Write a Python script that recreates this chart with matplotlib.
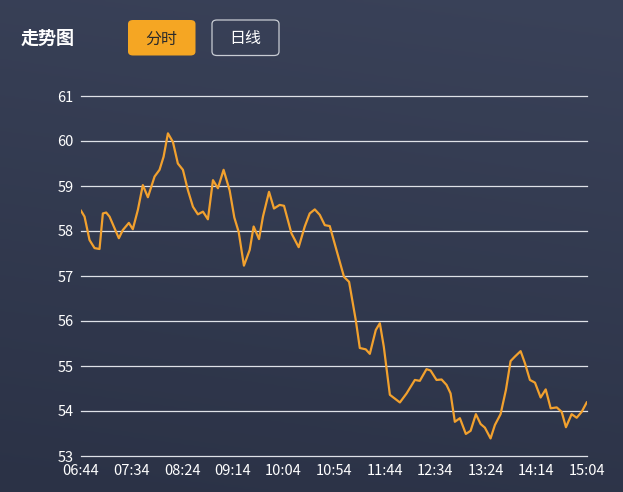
import numpy as np
import matplotlib
matplotlib.use("Agg")
import matplotlib.pyplot as plt
from matplotlib.patches import FancyBboxPatch

plt.rcParams['font.family'] = ['Noto Sans CJK SC', 'DejaVu Sans']

# minutes after 06:44 and price
minutes = [0, 3.5, 8.4, 13.4, 18.3, 21.6, 24.9, 28.2, 37.4, 41.3, 47.3, 51.2, 56.2,
           61.1, 66.1, 69.4, 72.7, 77.6, 81.6, 85.9, 90.8, 95.7, 100.7, 105.6, 110.6,
           115.5, 120.5, 125.4, 130.4, 135.3, 140.9, 146.9, 151.5, 155.8, 161.0, 166.7,
           170.6, 175.9, 179.8, 185.8, 190.7, 196.3, 200.6, 207.9, 215.1, 221.1, 226.0,
           231.0, 235.9, 240.9, 245.8, 252.4, 259.9, 264.9, 271.5, 275.5, 281.4, 285.4,
           291.3, 295.3, 299.2, 305.2, 315.1, 321.7, 329.9, 334.8, 341.4, 345.4, 351.3,
           356.3, 361.2, 365.2, 369.4, 374.4, 380.3, 385.0, 390.2, 394.9, 399.1, 404.7,
           409.0, 414.6, 419.9, 424.5, 428.8, 434.4, 438.7, 443.6, 448.6, 454.2, 459.2,
           464.1, 470.1, 475.0, 479.2, 484.8, 489.8, 494.7, 499.7]
prices = [58.45, 58.32, 57.8, 57.62, 57.6, 58.39, 58.41, 58.32, 57.84, 58.02, 58.18,
          58.04, 58.47, 59.02, 58.75, 58.98, 59.21, 59.36, 59.65, 60.17, 59.98, 59.5,
          59.36, 58.91, 58.54, 58.37, 58.43, 58.26, 59.13, 58.95, 59.36, 58.9, 58.3,
          57.98, 57.23, 57.58, 58.1, 57.82, 58.32, 58.87, 58.5, 58.58, 58.56, 57.95,
          57.64, 58.1, 58.39, 58.48, 58.36, 58.13, 58.11, 57.58, 56.98, 56.87, 56.02,
          55.4, 55.37, 55.27, 55.8, 55.95, 55.43, 54.36, 54.19, 54.39, 54.69, 54.67,
          54.93, 54.9, 54.69, 54.7, 54.58, 54.39, 53.76, 53.84, 53.49, 53.56, 53.93,
          53.71, 53.63, 53.39, 53.69, 53.93, 54.47, 55.11, 55.21, 55.33, 55.06, 54.69,
          54.63, 54.3, 54.48, 54.06, 54.08, 53.98, 53.64, 53.93, 53.85, 53.98, 54.19]
tick_labels = ["06:44", "07:34", "08:24", "09:14", "10:04", "10:54",
               "11:44", "12:34", "13:24", "14:14", "15:04"]
y_ticks = [53, 54, 55, 56, 57, 58, 59, 60, 61]

fig = plt.figure(figsize=(6.23, 4.92), dpi=100)

# background gradient, lighter at the top
bg = fig.add_axes([0, 0, 1, 1])
yy, xx = np.mgrid[0:1:200j, 0:1:200j]
t = 0.85 * (1 - yy) + 0.15 * xx
top = np.array([0x3a, 0x42, 0x59]) / 255
bot = np.array([0x2b, 0x32, 0x46]) / 255
img = bot[None, None, :] * (1 - t[..., None]) + top[None, None, :] * t[..., None]
bg.imshow(img, origin='upper', aspect='auto', extent=[0, 1, 0, 1])
bg.set_xlim(0, 1)
bg.set_ylim(0, 1)
bg.axis('off')

W, H = 623, 492

# header
fig.text(21 / W, 1 - 38 / H, "走势图", color='white', fontsize=13, fontweight='bold',
         va='center', ha='left')
b1 = FancyBboxPatch((128 / W, 1 - 55.5 / H), 67.5 / W, 35.5 / H,
                    boxstyle="round,pad=0,rounding_size=0.008",
                    transform=fig.transFigure, facecolor='#f5a623', edgecolor='none')
b2 = FancyBboxPatch((212 / W, 1 - 55.5 / H), 67 / W, 35.5 / H,
                    boxstyle="round,pad=0,rounding_size=0.008",
                    transform=fig.transFigure, facecolor='none', edgecolor='#c8ccd4',
                    linewidth=0.9)
fig.patches.extend([b1, b2])
fig.text(161.5 / W, 1 - 39 / H, "分时", color='#2b2b2b', fontsize=11.5, va='center', ha='center')
fig.text(245.5 / W, 1 - 39 / H, "日线", color='white', fontsize=11.5, va='center', ha='center')

ax = fig.add_axes([81 / W, 1 - 456 / H, 506 / W, 360 / H])
ax.set_facecolor('none')
ax.plot(minutes, prices, color='#f2a12e', linewidth=1.6, solid_joinstyle='round',
        zorder=3)
ax.set_xlim(0, 500)
ax.set_ylim(53, 61)
ax.set_yticks(y_ticks)
ax.set_xticks(np.arange(len(tick_labels)) * 50)
ax.set_xticklabels(tick_labels)
for y in y_ticks:
    ax.axhline(y, color='#dfe2e8', linewidth=0.9, zorder=1, clip_on=False)
for s in ax.spines.values():
    s.set_visible(False)
ax.tick_params(axis='both', length=0, colors='white', labelsize=10.5)
ax.tick_params(axis='y', pad=5.5)
ax.tick_params(axis='x', pad=5.5)

fig.savefig("out.png", dpi=100)
